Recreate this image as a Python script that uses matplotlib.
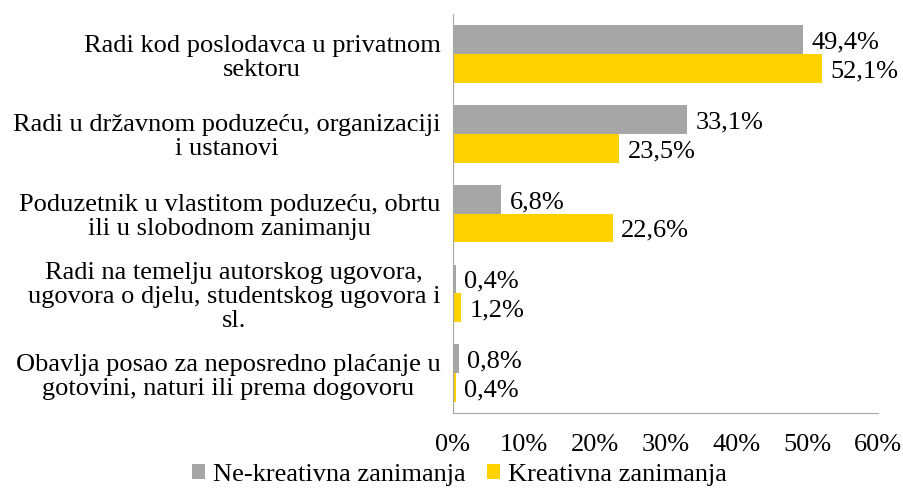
import matplotlib
matplotlib.use("Agg")
import matplotlib.pyplot as plt
import numpy as np

categories = [
    "Radi kod poslodavca u privatnom\nsektoru",
    "Radi u državnom poduzeću, organizaciji\ni ustanovi",
    "Poduzetnik u vlastitom poduzeću, obrtu\nili u slobodnom zanimanju",
    "Radi na temelju autorskog ugovora,\nugovora o djelu, studentskog ugovora i\nsl.",
    "Obavlja posao za neposredno plaćanje u\ngotovini, naturi ili prema dogovoru",
]
ne_kreativna = [49.4, 33.1, 6.8, 0.4, 0.8]
kreativna = [52.1, 23.5, 22.6, 1.2, 0.4]
series_names = ["Ne-kreativna zanimanja", "Kreativna zanimanja"]
xticks = [0, 10, 20, 30, 40, 50, 60]

plt.rcParams["font.family"] = ["Liberation Serif", "DejaVu Serif"]
FS = 19

fig = plt.figure(figsize=(9.04, 4.9), dpi=100)
ax = fig.add_axes([0.501, 0.157, 0.470, 0.814])

y = np.arange(len(categories))
h = 0.36
b1 = ax.barh(y - h / 2, ne_kreativna, height=h, color="#A6A6A6", label=series_names[0])
b2 = ax.barh(y + h / 2, kreativna, height=h, color="#FFD200", label=series_names[1])

for bars, vals in ((b1, ne_kreativna), (b2, kreativna)):
    for bar, v in zip(bars, vals):
        ax.annotate(f"{v:.1f}%".replace(".", ","),
                    (bar.get_width(), bar.get_y() + bar.get_height() / 2),
                    xytext=(6, -2), textcoords="offset points",
                    va="center", ha="left", fontsize=FS)

ax.set_ylim(len(categories) - 0.5, -0.5)
ax.set_xlim(0, 60)
ax.set_xticks(xticks)
ax.set_xticklabels([f"{t}%" for t in xticks], fontsize=FS)
ax.set_yticks(y)
ax.set_yticklabels(categories, fontsize=FS, ha="right", multialignment="center",
                   linespacing=1.12)
ax.tick_params(axis="y", length=0, pad=9)
ax.tick_params(axis="x", length=0, pad=15)
for s in ("top", "right"):
    ax.spines[s].set_visible(False)
for s in ("left", "bottom"):
    ax.spines[s].set_color("#A6A6A6")

fig.legend(handles=[b1, b2], loc="center", bbox_to_anchor=(0.508, 0.03),
           ncol=2, frameon=False, fontsize=FS, handlelength=0.5, handleheight=0.5,
           columnspacing=0.8, handletextpad=0.3)

fig.savefig("out.png", dpi=100)
